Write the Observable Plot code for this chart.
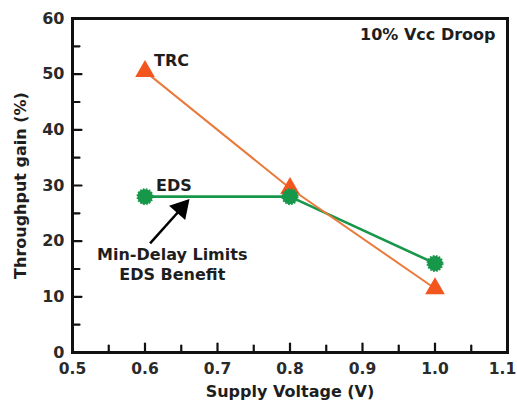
<!DOCTYPE html>
<html>
<head>
<meta charset="utf-8">
<script src="https://cdn.jsdelivr.net/npm/d3@7"></script>
<script src="https://cdn.jsdelivr.net/npm/@observablehq/plot@0.6"></script>
<style>
  html, body { margin: 0; padding: 0; background: #fff; }
</style>
</head>
<body>
<div id="chart"></div>
<script>
// ---- data ----
const voltages = [0.6, 0.8, 1.0];
const trcGain = [50.5, 29.5, 11.5];
const edsGain = [28, 28, 16];
const seriesNames = ["TRC", "EDS"];

const xMajorTicks = [0.5, 0.6, 0.7, 0.8, 0.9, 1.0, 1.1];
const xMinorTicks = [0.55, 0.65, 0.75, 0.85, 0.95, 1.05];
const yMajorTicks = [0, 10, 20, 30, 40, 50, 60];
const yMinorTicks = [5, 15, 25, 35, 45, 55];

const xTitle = "Supply Voltage (V)";
const yTitle = "Throughput gain (%)";
const cornerNote = "10% Vcc Droop";
const annotation = "Min-Delay Limits\nEDS Benefit";

// ---- derived tables ----
const trc = voltages.map((v, i) => ({v, g: trcGain[i]}));
const eds = voltages.map((v, i) => ({v, g: edsGain[i]}));
const xInnerTicks = xMajorTicks.slice(0, -1);
const xLastTick = xMajorTicks.slice(-1);

const tickShape = {draw(ctx, l) { ctx.moveTo(0, 0); ctx.lineTo(0, -l); }};
const orangeLine = "#ea7a3c";
const orangeMark = "#f2561e";
const green = "#17974a";
const ink = "#1e1e1e";
const xTickStyle = {tickSize: 0, tickPadding: 10, tickFormat: d3.format(".1f"),
  fontSize: 15.5, fontWeight: "bold", fill: "#2a2a2a", label: null};

const chart = Plot.plot({
  width: 517,
  height: 403,
  marginLeft: 72,
  marginRight: 10,
  marginTop: 18,
  marginBottom: 51,
  style: {fontFamily: "'DejaVu Sans', sans-serif", background: "#fff", color: ink},
  x: {domain: [0.5, 1.1]},
  y: {domain: [0, 60]},
  marks: [
    Plot.axisX({ticks: xInnerTicks, ...xTickStyle}),
    Plot.axisX({ticks: xLastTick, ...xTickStyle, dx: -5}),
    Plot.axisY({ticks: yMajorTicks, tickSize: 0, tickPadding: 8, tickFormat: d3.format("d"),
      fontSize: 16, fontWeight: "bold", fill: "#2a2a2a", label: null}),
    // inward ticks
    Plot.vector(xMajorTicks, {x: d => d, frameAnchor: "bottom", length: 9, anchor: "start", shape: tickShape, stroke: "#111", strokeWidth: 2.2}),
    Plot.vector(xMinorTicks, {x: d => d, frameAnchor: "bottom", length: 7, anchor: "start", shape: tickShape, stroke: "#111", strokeWidth: 2.2}),
    Plot.vector(yMajorTicks, {y: d => d, frameAnchor: "left", rotate: 90, length: 9, anchor: "start", shape: tickShape, stroke: "#111", strokeWidth: 2.2}),
    Plot.vector(yMinorTicks, {y: d => d, frameAnchor: "left", rotate: 90, length: 7, anchor: "start", shape: tickShape, stroke: "#111", strokeWidth: 2.2}),
    // axis titles
    Plot.text([xTitle], {frameAnchor: "bottom", textAnchor: "middle", lineAnchor: "middle", dy: 39, fontSize: 16, fontWeight: "bold", fill: ink}),
    Plot.text([yTitle], {frameAnchor: "left", textAnchor: "middle", lineAnchor: "middle", dx: -52, rotate: -90, fontSize: 16, fontWeight: "bold", fill: ink}),
    // series
    Plot.line(eds, {x: "v", y: "g", stroke: green, strokeWidth: 2.6}),
    Plot.line(trc, {x: "v", y: "g", stroke: orangeLine, strokeWidth: 2}),
    Plot.dot(trc, {x: "v", y: "g", symbol: "triangle", r: 7.3, fill: orangeMark}),
    Plot.dot(eds, {x: "v", y: "g", symbol: "circle", r: 7.5, fill: green, stroke: green, strokeWidth: 2, strokeDasharray: "1.6,1.4"}),
    // series labels
    Plot.text([trc[0]], {x: "v", y: "g", text: () => seriesNames[0], dx: 9, dy: -11, textAnchor: "start", fontSize: 16, fontWeight: "bold", fill: ink}),
    Plot.text([eds[0]], {x: "v", y: "g", text: () => seriesNames[1], dx: 11, dy: -11, textAnchor: "start", fontSize: 16, fontWeight: "bold", fill: ink}),
    // corner note
    Plot.text([cornerNote], {frameAnchor: "top-right", dx: -12, dy: 16, textAnchor: "end", lineAnchor: "middle", fontSize: 16, fontWeight: "bold", fill: ink}),
    // annotation
    Plot.text([annotation], {x: 0.6376, y: 16.0, lineAnchor: "middle", lineHeight: 1.25, fontSize: 16, fontWeight: "bold", fill: ink}),
    Plot.link([0], {x1: 0.607, y1: 19.6, x2: 0.651, y2: 26.0, stroke: "#000", strokeWidth: 2.5}),
    Plot.dot([0], {x: 0.650, y: 25.9, symbol: "triangle", r: 8, rotate: 41.5, fill: "#000"}),
    Plot.frame({stroke: "#111", strokeWidth: 3})
  ]
});
document.getElementById("chart").appendChild(chart);
</script>
</body>
</html>
